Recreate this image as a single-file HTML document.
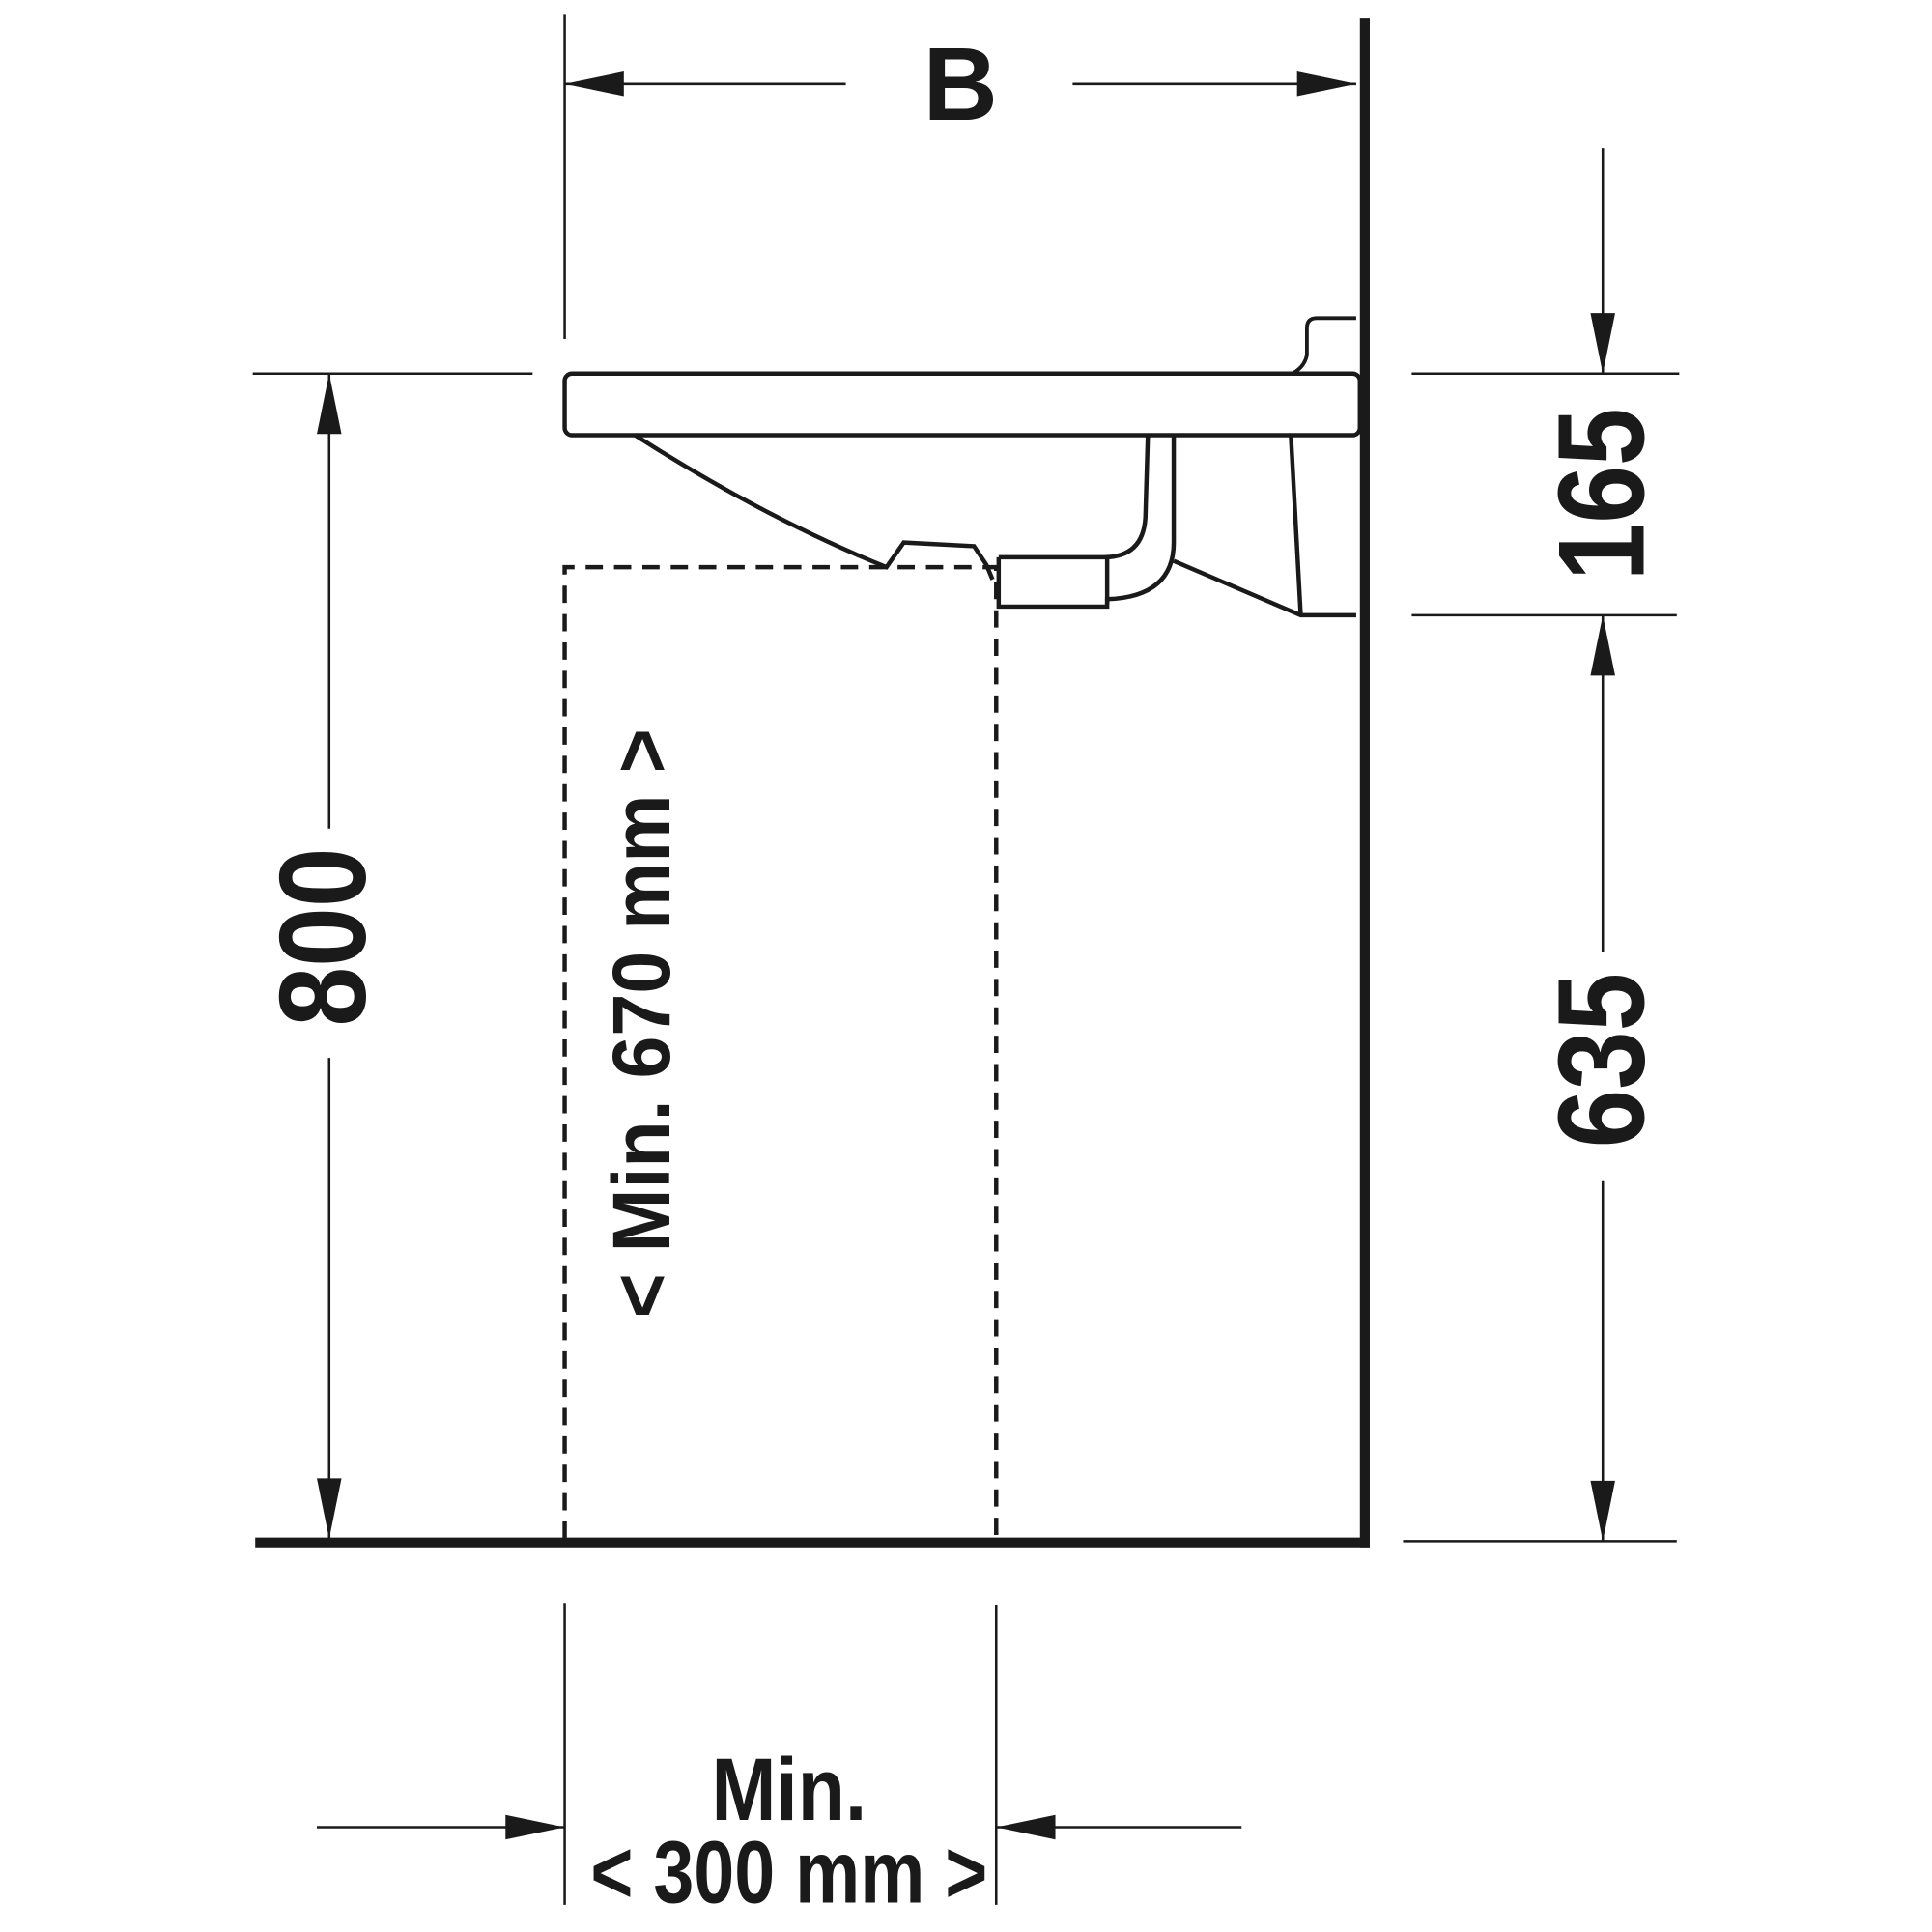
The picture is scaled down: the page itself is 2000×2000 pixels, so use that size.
<!DOCTYPE html>
<html><head><style>html,body{margin:0;padding:0;background:#fff}svg{display:block}
text{font-family:"Liberation Sans Narrow","Liberation Sans",sans-serif;font-weight:bold;fill:#1a1a1a}</style></head>
<body>
<svg width="2000" height="2000" viewBox="0 0 1567 1567" xmlns="http://www.w3.org/2000/svg">
<g stroke="#1a1a1a" fill="none" stroke-linecap="butt">
<line x1="1107" y1="15" x2="1107" y2="1255" stroke-width="8"/>
<line x1="207" y1="1251" x2="1111" y2="1251" stroke-width="8"/>
<line x1="458" y1="12" x2="458" y2="275" stroke-width="2"/>
<line x1="458" y1="68" x2="686" y2="68" stroke-width="2"/>
<line x1="870" y1="68" x2="1100" y2="68" stroke-width="2"/>
<line x1="205" y1="303" x2="432" y2="303" stroke-width="2"/>
<line x1="267" y1="303" x2="267" y2="672" stroke-width="2"/>
<line x1="267" y1="858" x2="267" y2="1248" stroke-width="2"/>
<line x1="1145" y1="303" x2="1362" y2="303" stroke-width="2"/>
<line x1="1145" y1="499" x2="1360" y2="499" stroke-width="2"/>
<line x1="1138" y1="1250" x2="1360" y2="1250" stroke-width="2"/>
<line x1="1300" y1="120" x2="1300" y2="303" stroke-width="2"/>
<line x1="1300" y1="499" x2="1300" y2="772" stroke-width="2"/>
<line x1="1300" y1="958" x2="1300" y2="1250" stroke-width="2"/>
<line x1="458" y1="1300" x2="458" y2="1545" stroke-width="2"/>
<line x1="808" y1="1302" x2="808" y2="1545" stroke-width="2"/>
<line x1="257" y1="1482" x2="458" y2="1482" stroke-width="2"/>
<line x1="808" y1="1482" x2="1007" y2="1482" stroke-width="2"/>
<rect x="458" y="303" width="645" height="50" rx="6" stroke-width="3.5"/>
<path d="M1100 258 H1068 Q1060 258 1060 266 V288 Q1058 298 1048 303" stroke-width="3"/>
<path d="M515 353 Q620 420 719 460 L733 440 L790 443 L800 458 L805 470" stroke-width="3.5"/>
<path d="M931 353 L929 420 Q927 452 895 452 H810" stroke-width="3.5"/>
<path d="M810 452 V492 H898 V486 Q952 484 952 440 V353" stroke-width="3.5"/>
<line x1="898" y1="452" x2="898" y2="490" stroke-width="3.5"/>
<path d="M952 455 L1055 499 H1100" stroke-width="3.5"/>
<line x1="1047" y1="353" x2="1055" y2="499" stroke-width="3.5"/>
<path d="M458 1248 V460 H808 V1248" stroke-width="3.5" stroke-dasharray="14 9"/>
</g>
<g fill="#1a1a1a">
<polygon points="458,68 506,58 506,78"/>
<polygon points="1100,68 1052,58 1052,78"/>
<polygon points="267,303 257,352 277,352"/>
<polygon points="267,1248 257,1199 277,1199"/>
<polygon points="1300,303 1290,254 1310,254"/>
<polygon points="1300,499 1290,548 1310,548"/>
<polygon points="1300,1250 1290,1201 1310,1201"/>
<polygon points="458,1482 410,1472 410,1492"/>
<polygon points="808,1482 856,1472 856,1492"/>
</g>
<text x="779" y="97" font-size="84" text-anchor="middle">B</text>
<text transform="translate(296,760) rotate(-90)" font-size="100" text-anchor="middle" textLength="145" lengthAdjust="spacingAndGlyphs">800</text>
<text transform="translate(1333,401) rotate(-90)" font-size="100" text-anchor="middle" textLength="140" lengthAdjust="spacingAndGlyphs">165</text>
<text transform="translate(1333,860) rotate(-90)" font-size="100" text-anchor="middle" textLength="142" lengthAdjust="spacingAndGlyphs">635</text>
<text transform="translate(543,830) rotate(-90)" font-size="66" text-anchor="middle" textLength="478" lengthAdjust="spacingAndGlyphs">&lt; Min. 670 mm &gt;</text>
<text x="640" y="1476" font-size="72" text-anchor="middle" textLength="126" lengthAdjust="spacingAndGlyphs">Min.</text>
<text x="640" y="1543" font-size="72" text-anchor="middle" textLength="322" lengthAdjust="spacingAndGlyphs">&lt; 300 mm &gt;</text>
</svg>
</body></html>
